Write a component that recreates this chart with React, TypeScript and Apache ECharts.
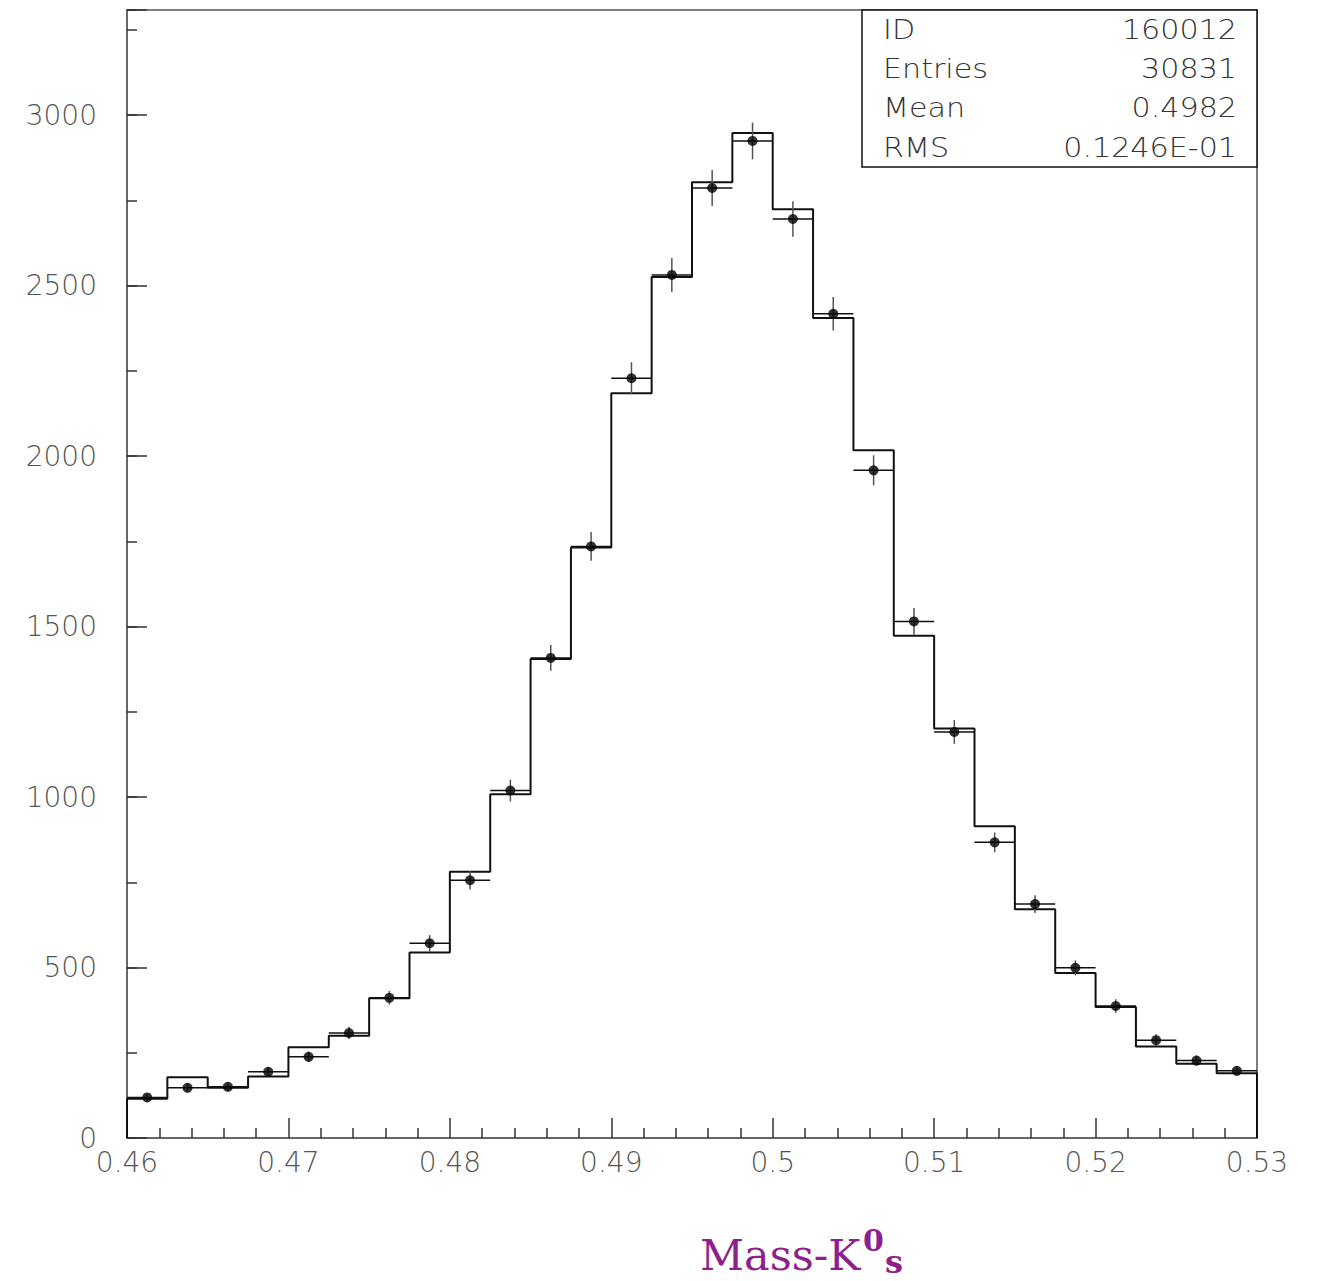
import React, { useEffect, useRef } from "react";
import * as echarts from "echarts";

// Bin centres of the histogram (bin width 0.0025 between 0.46 and 0.53)
const binCenters = [
  0.46125, 0.46375, 0.46625, 0.46875, 0.47125, 0.47375, 0.47625, 0.47875,
  0.48125, 0.48375, 0.48625, 0.48875, 0.49125, 0.49375, 0.49625, 0.49875,
  0.50125, 0.50375, 0.50625, 0.50875, 0.51125, 0.51375, 0.51625, 0.51875,
  0.52125, 0.52375, 0.52625, 0.52875,
];
const binWidth = 0.0025;

// Histogram (step line) contents
const histContents = [
  115, 178, 147, 180, 266, 300, 410, 544, 781, 1008, 1405, 1732, 2184, 2525,
  2803, 2947, 2724, 2405, 2017, 1473, 1201, 914, 671, 484, 384, 268, 218, 190,
];

// Data points (markers with error bars)
const pointValues = [
  119, 147, 150, 194, 238, 308, 411, 571, 756, 1019, 1408, 1735, 2228, 2531,
  2786, 2924, 2695, 2417, 1958, 1515, 1191, 867, 686, 499, 387, 287, 227, 197,
];
const pointErrors = [
  11, 12, 12, 14, 15, 18, 20, 24, 27, 32, 38, 42, 47, 50, 53, 54, 52, 49, 44,
  39, 35, 29, 26, 22, 20, 17, 15, 14,
];

const statsLabels = ["ID", "Entries", "Mean", "RMS"];
const statsValues = ["160012", "30831", "0.4982", "0.1246E-01"];

const xTitleMain = "Mass-K";
const xTitleSup = "0";
const xTitleSub = "s";

export default function App() {
  const ref = useRef<HTMLDivElement>(null);

  useEffect(() => {
    if (!ref.current) return;
    const chart = echarts.init(ref.current, undefined, { renderer: "svg" });
    const hw = binWidth / 2;

    const stepData: number[][] = [];
    stepData.push([binCenters[0] - hw, 0]);
    binCenters.forEach((c, i) => {
      stepData.push([c - hw, histContents[i]]);
      stepData.push([c + hw, histContents[i]]);
    });
    stepData.push([binCenters[binCenters.length - 1] + hw, 0]);

    const pts = binCenters.map((c, i) => [c, pointValues[i], pointErrors[i]]);

    const labelFont = {
      fontFamily: "DejaVu Sans",
      fontWeight: 200 as any,
      fontSize: 28,
      color: "#555",
    };

    const statsGraphics: any[] = [
      {
        type: "rect",
        shape: { x: 862, y: 10, width: 395, height: 157 },
        style: { fill: "#fff", stroke: "#111", lineWidth: 1.5 },
        z: 100,
      },
    ];
    statsLabels.forEach((l, i) => {
      const cy = 30 + i * 39.3;
      statsGraphics.push({
        type: "text",
        x: 883,
        y: cy,
        scaleX: 1.16,
        z: 101,
        style: {
          text: l,
          fontFamily: "DejaVu Sans",
          fontWeight: 200,
          fontSize: 26,
          fill: "#333",
          align: "left",
          verticalAlign: "middle",
        },
      });
      statsGraphics.push({
        type: "text",
        x: 1237,
        y: cy,
        scaleX: 1.16,
        z: 101,
        style: {
          text: statsValues[i],
          fontFamily: "DejaVu Sans",
          fontWeight: 200,
          fontSize: 26,
          fill: "#333",
          align: "right",
          verticalAlign: "middle",
        },
      });
    });

    const titleColor = "#8e1f8c";
    const titleGraphics = [
      {
        type: "text",
        x: 700,
        y: 1255,
        style: {
          text: xTitleMain,
          fontFamily: "DejaVu Serif",
          fontSize: 43,
          fill: titleColor,
          align: "left",
          verticalAlign: "middle",
        },
      },
      {
        type: "text",
        x: 863,
        y: 1240,
        style: {
          text: xTitleSup,
          fontFamily: "DejaVu Serif",
          fontWeight: "bold",
          fontSize: 30,
          fill: titleColor,
          align: "left",
          verticalAlign: "middle",
        },
      },
      {
        type: "text",
        x: 885,
        y: 1262,
        style: {
          text: xTitleSub,
          fontFamily: "DejaVu Serif",
          fontWeight: "bold",
          fontSize: 32,
          fill: titleColor,
          align: "left",
          verticalAlign: "middle",
        },
      },
    ];

    const option: any = {
      animation: false,
      backgroundColor: "#fff",
      grid: {
        left: 127,
        top: 10,
        right: 63,
        bottom: 143,
        show: true,
        borderColor: "#555",
        borderWidth: 1.5,
        backgroundColor: "transparent",
      },
      xAxis: {
        type: "value",
        min: 0.46,
        max: 0.53,
        interval: 0.01,
        axisLine: { show: true, lineStyle: { color: "#666", width: 2 } },
        axisTick: {
          show: true,
          inside: true,
          length: 20,
          lineStyle: { color: "#333", width: 1.5 },
        },
        minorTick: {
          show: true,
          splitNumber: 5,
          length: 10,
          lineStyle: { color: "#333", width: 1.5 },
        },
        splitLine: { show: false },
        minorSplitLine: { show: false },
        axisLabel: {
          ...labelFont,
          margin: 10,
          formatter: (v: number) => String(+v.toFixed(3)),
        },
      },
      yAxis: [
        {
          type: "value",
          position: "left",
          min: 0,
          max: 3308,
          interval: 500,
          axisLine: { show: true, lineStyle: { color: "#666", width: 2 } },
          axisTick: {
            show: true,
            inside: true,
            length: 20,
            lineStyle: { color: "#333", width: 1.5 },
          },
          splitLine: { show: false },
          axisLabel: {
            ...labelFont,
            margin: 30,
            formatter: (v: number) => (Math.round(v) % 500 === 0 ? String(Math.round(v)) : ""),
          },
        },
        {
          type: "value",
          position: "left",
          offset: 0,
          min: 0,
          max: 3308,
          interval: 250,
          axisLine: { show: false },
          axisTick: {
            show: true,
            inside: true,
            length: 10,
            lineStyle: { color: "#333", width: 1.5 },
          },
          splitLine: { show: false },
          axisLabel: { show: false },
        },
      ],
      series: [
        {
          type: "line",
          data: stepData,
          symbol: "none",
          lineStyle: { color: "#111", width: 2 },
          z: 3,
        },
        {
          type: "custom",
          data: pts,
          z: 4,
          renderItem: (params: any, api: any) => {
            const x = api.value(0);
            const y = api.value(1);
            const e = api.value(2);
            const l = api.coord([x - hw, y]);
            const r = api.coord([x + hw, y]);
            const t = api.coord([x, y + e]);
            const b = api.coord([x, y - e]);
            return {
              type: "group",
              children: [
                {
                  type: "line",
                  shape: { x1: l[0], y1: l[1], x2: r[0], y2: r[1] },
                  style: { stroke: "#111", lineWidth: 1.5 },
                },
                {
                  type: "line",
                  shape: { x1: t[0], y1: t[1], x2: b[0], y2: b[1] },
                  style: { stroke: "#555", lineWidth: 1.5 },
                },
              ],
            };
          },
        },
        {
          type: "scatter",
          data: pts.map((p) => [p[0], p[1]]),
          symbol: "circle",
          symbolSize: 10,
          itemStyle: { color: "#000" },
          z: 5,
        },
      ],
      graphic: [...statsGraphics, ...titleGraphics],
    };

    chart.setOption(option);
    return () => chart.dispose();
  }, []);

  return (
    <div
      ref={ref}
      style={{ position: "absolute", left: 0, top: 0, width: 1320, height: 1281 }}
    />
  );
}
